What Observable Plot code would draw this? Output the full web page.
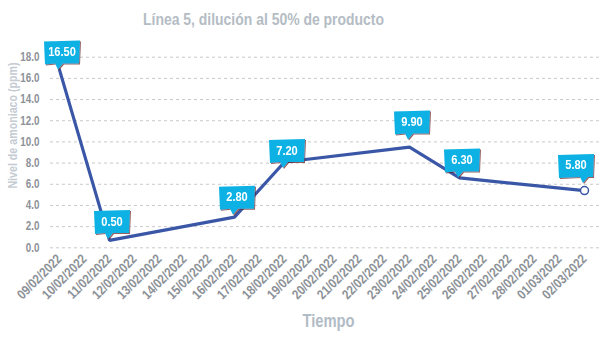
<!DOCTYPE html>
<html>
<head>
<meta charset="utf-8">
<script src="https://cdn.jsdelivr.net/npm/d3@7"></script>
<script src="https://cdn.jsdelivr.net/npm/@observablehq/plot@0.6"></script>
<style>
  html, body { margin: 0; padding: 0; background: #fff; }
  #chart svg { display: block; }
</style>
</head>
<body>
<div id="chart"></div>
<script>
// ---- data ----
const tickLabels = ["09/02/2022","10/02/2022","11/02/2022","12/02/2022","13/02/2022","14/02/2022","15/02/2022","16/02/2022","17/02/2022","18/02/2022","19/02/2022","20/02/2022","21/02/2022","22/02/2022","23/02/2022","24/02/2022","25/02/2022","26/02/2022","27/02/2022","28/02/2022","01/03/2022","02/03/2022"];
const pointDates = ["09/02/2022","11/02/2022","16/02/2022","18/02/2022","23/02/2022","25/02/2022","02/03/2022"];
const lineValues = [16.8, 0.7, 2.9, 8.1, 9.5, 6.6, 5.4];
const labelValues = [16.5, 0.5, 2.8, 7.2, 9.9, 6.3, 5.8];
const yTicks = [0, 2, 4, 6, 8, 10, 12, 14, 16, 18];
const titleText = "Línea 5, dilución al 50% de producto";
const xTitle = "Tiempo";
const yTitle = "Nivel de amoniaco (ppm)";

const lineData = pointDates.map((d, i) => ({date: d, value: lineValues[i]}));
const calloutData = pointDates.map((d, i) => ({date: d, value: labelValues[i], text: labelValues[i].toFixed(2)}));
const lastPoint = [lineData[lineData.length - 1]];

const FONT = "'Liberation Sans', Arial, sans-serif";
const W = 600, H = 337;

function calloutRender(index, scales, values) {
  const g = d3.create("svg:g");
  const defs = g.append("defs");
  const f = defs.append("filter").attr("id", "cshadow").attr("x", "-20%").attr("y", "-20%").attr("width", "150%").attr("height", "150%");
  f.append("feDropShadow").attr("dx", 1).attr("dy", 1).attr("stdDeviation", 0.7)
    .attr("flood-color", "#6b1a1a").attr("flood-opacity", 0.7);
  const w = 36, h = 23, gap = 9;
  for (const i of index) {
    const px = values.x[i], py = values.y[i];
    const cx = Math.min(px + 3, W - w / 2 - 6), bottom = py - gap, top = bottom - h;
    const grp = g.append("g").attr("filter", "url(#cshadow)");
    grp.append("path")
      .attr("d", `M${cx - w/2},${top + 1}L${cx + w/2},${top}L${cx + w/2 - 1},${bottom}L${px + 4},${bottom}L${px - 1},${py - 3}L${px - 4},${bottom}L${cx - w/2 + 1},${bottom + 1}Z`)
      .attr("fill", "#09b1e4");
    grp.append("text")
      .attr("x", cx).attr("y", top + h/2 + 0.5)
      .attr("text-anchor", "middle").attr("dominant-baseline", "middle")
      .attr("fill", "#ffffff").attr("font-weight", "bold")
      .attr("font-size", 13.5).attr("font-family", FONT)
      .attr("data-condense", "0.82")
      .text(calloutData[i].text);
  }
  return g.node();
}

const chart = Plot.plot({
  width: W,
  height: H,
  marginLeft: 59,
  marginRight: 16,
  marginTop: 56.7,
  marginBottom: 89.7,
  style: {fontFamily: FONT, background: "#fff", overflow: "visible"},
  x: {type: "point", domain: tickLabels, padding: 0},
  y: {domain: [0, 18]},
  marks: [
    Plot.gridY(yTicks, {stroke: "#c9c9c9", strokeOpacity: 1, strokeDasharray: "3,3", insetLeft: -9, insetRight: -16}),
    Plot.axisY({ticks: yTicks, tickFormat: d => d.toFixed(1), tickSize: 0, tickPadding: 20, label: null,
      fill: "#8d9298", fontSize: 12, fontWeight: "bold"}),
    Plot.axisX({tickRotate: -45, tickSize: 0, tickPadding: 9, label: null,
      fill: "#8d9298", fontSize: 13.5, fontWeight: "bold", className: "xticks"}),
    Plot.line(lineData, {x: "date", y: "value", stroke: "#3a56a6", strokeWidth: 3.2, strokeLinejoin: "miter"}),
    Plot.dot(lastPoint, {x: "date", y: "value", r: 4, fill: "#fff", stroke: "#3a56a6", strokeWidth: 1.5}),
    Plot.dot(calloutData, {x: "date", y: "value", render: calloutRender}),
    Plot.text([titleText], {frameAnchor: "top-left", dx: 263 - 59, dy: 12 - 56.7, textAnchor: "middle",
      fontSize: 17, fontWeight: "bold", fill: "#b4bcc4"}),
    Plot.text([xTitle], {frameAnchor: "bottom-left", dx: 328 - 59, dy: 326 - 247.3, textAnchor: "middle",
      fontSize: 18, fontWeight: "bold", fill: "#b2bcc6"}),
    Plot.text([yTitle], {frameAnchor: "top-left", dx: 7 - 59, dy: 125 - 56.7, rotate: -90, textAnchor: "middle",
      fontSize: 13, fontWeight: "bold", fill: "#c4cbd2"})
  ]
});
document.getElementById("chart").appendChild(chart);
// condensed look: compress glyphs horizontally (no narrow face installed)
function condense(el, k) {
  const L = el.getComputedTextLength();
  if (L > 0) { el.setAttribute("textLength", (L * k).toFixed(2)); el.setAttribute("lengthAdjust", "spacingAndGlyphs"); }
}
chart.querySelectorAll("text").forEach(t => {
  const inX = t.closest(".xticks");
  const k = t.getAttribute("data-condense") ? +t.getAttribute("data-condense") : (inX ? 0.84 : 0.82);
  const spans = t.querySelectorAll("tspan");
  if (spans.length) spans.forEach(s => condense(s, k));
  else condense(t, k);
});
</script>
</body>
</html>
